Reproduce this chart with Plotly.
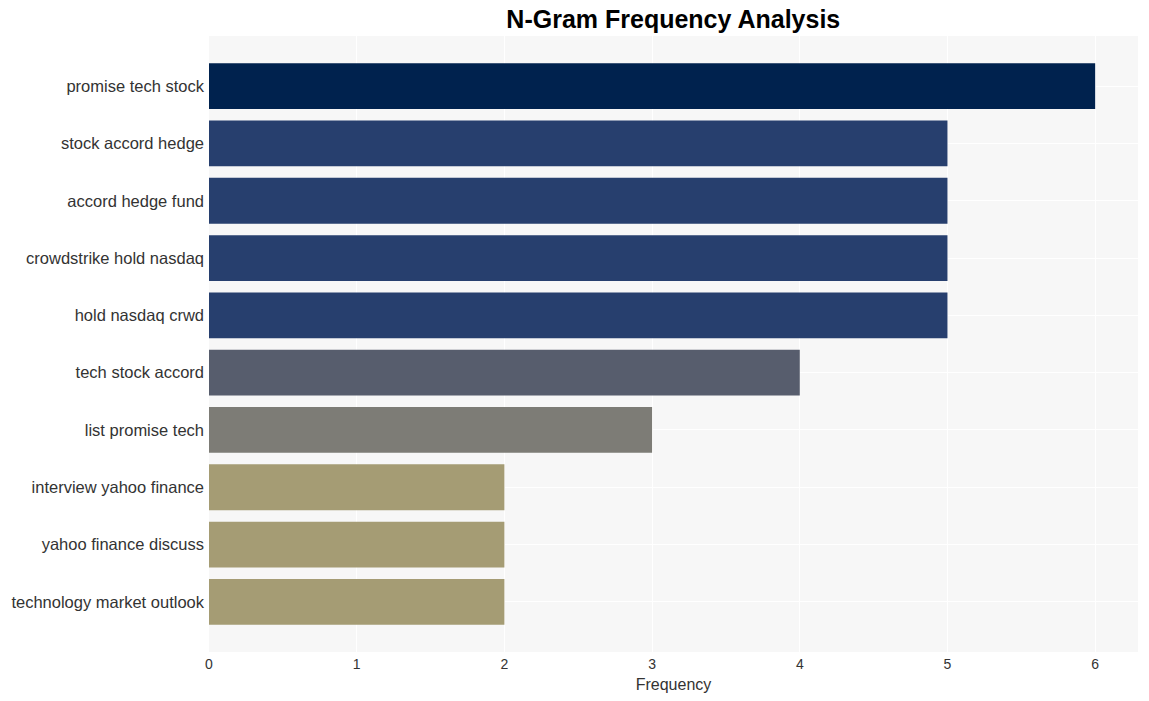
import plotly.graph_objects as go

ngrams = ["promise tech stock", "stock accord hedge", "accord hedge fund",
          "crowdstrike hold nasdaq", "hold nasdaq crwd", "tech stock accord",
          "list promise tech", "interview yahoo finance", "yahoo finance discuss",
          "technology market outlook"]
freqs = [6, 5, 5, 5, 5, 4, 3, 2, 2, 2]

fig = go.Figure(go.Bar(
    x=freqs, y=ngrams, orientation="h",
    marker=dict(color=freqs, colorscale="Cividis_r", cmin=0, cmax=6, line=dict(width=0)),
    width=0.8,
))

fig.update_layout(
    width=1149, height=701,
    margin=dict(l=209, r=11, t=36, b=49),
    paper_bgcolor="white", plot_bgcolor="#f7f7f7",
    font=dict(family="Liberation Sans, Arial", color="#333333", size=13),
    title=dict(text="<b>N-Gram Frequency Analysis</b>", x=0.586, xanchor="center",
               y=0.972, yanchor="middle", font=dict(size=25, color="black")),
    showlegend=False,
)
fig.update_xaxes(range=[0, 6.29], tickvals=[0, 1, 2, 3, 4, 5, 6], showgrid=True,
                 gridcolor="white", gridwidth=1, zeroline=False,
                 title=dict(text="Frequency", font=dict(size=16), standoff=7),
                 tickfont=dict(size=14), ticklabelstandoff=2)
fig.update_yaxes(range=[9.875, -0.875], showgrid=True, gridcolor="white",
                 tickfont=dict(size=16.5), ticks="", ticklabelstandoff=4)

fig.write_html("out.html")
